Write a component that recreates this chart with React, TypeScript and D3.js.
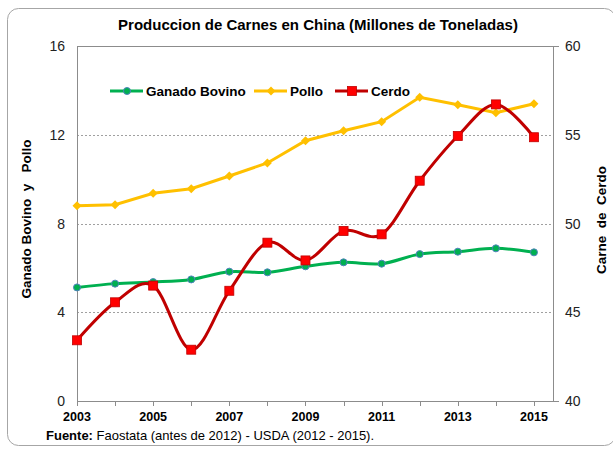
import React from "react";
import * as d3 from "d3";

const years = [2003, 2004, 2005, 2006, 2007, 2008, 2009, 2010, 2011, 2012, 2013, 2014, 2015];
const bovino = [5.12, 5.29, 5.36, 5.48, 5.83, 5.8, 6.07, 6.25, 6.19, 6.62, 6.73, 6.88, 6.7];
const pollo = [8.8, 8.85, 9.36, 9.57, 10.14, 10.73, 11.73, 12.18, 12.59, 13.69, 13.35, 12.99, 13.4];
const cerdo = [43.42, 45.56, 46.5, 42.89, 46.21, 48.92, 47.92, 49.58, 49.39, 52.41, 54.93, 56.71, 54.86];
const leftTicks = [0, 4, 8, 12, 16];
const rightTicks = [40, 45, 50, 55, 60];
const xLabels = [2003, 2005, 2007, 2009, 2011, 2013, 2015];
const title = "Produccion de Carnes en China (Millones de Toneladas)";
const leftTitle = "Ganado Bovino  y   Pollo";
const rightTitle = "Carne  de  Cerdo";

const W = 613, H = 449;
const L = 77, R = 553, T = 46, B = 401;
const FONT = "'Liberation Sans', Arial, sans-serif";

export default function App() {
  const x = d3.scaleLinear().domain([2003, 2015.5]).range([L, R]);
  const yL = d3.scaleLinear().domain([0, 16]).range([B, T]);
  const yR = d3.scaleLinear().domain([40, 60]).range([B, T]);

  const smooth = d3.curveCatmullRom.alpha(0);
  const lineBov = d3.line<number>().x((_, i) => x(years[i])).y((d) => yL(d)).curve(smooth);
  const linePol = d3.line<number>().x((_, i) => x(years[i])).y((d) => yL(d));
  const lineCer = d3.line<number>().x((_, i) => x(years[i])).y((d) => yR(d)).curve(smooth);

  const green = "#00B050", blue = "#4F81BD", yellow = "#FFC000", darkRed = "#C00000", red = "#FF0000";

  const diamond = (cx: number, cy: number, r: number) =>
    `M${cx},${cy - r}L${cx + r},${cy}L${cx},${cy + r}L${cx - r},${cy}Z`;

  const legendY = 91;
  const axisCol = "#8c8c8c";

  return (
    <svg width={W} height={H} style={{ position: "absolute", left: 0, top: 0, fontFamily: FONT }}>
      <rect x={0} y={0} width={W} height={H} fill="#fff" />
      <rect x={7.5} y={8.5} width={608} height={437} rx={11} fill="#fff" stroke="#a6a6a6" strokeWidth={1} />
      <text x={318} y={30} textAnchor="middle" fontSize={15} fontWeight="bold" fill="#000">{title}</text>

      {/* gridlines */}
      {leftTicks.filter((t) => t > 0 && t < 16).map((t) => (
        <line key={t} x1={L} x2={R} y1={Math.round(yL(t)) + 0.5} y2={Math.round(yL(t)) + 0.5} stroke="#a0a0a0" strokeWidth={1} strokeDasharray="2,2" />
      ))}
      {/* plot frame */}
      <line x1={L} x2={R + 6} y1={T + 0.5} y2={T + 0.5} stroke={axisCol} />
      <line x1={L + 0.5} x2={L + 0.5} y1={T} y2={B} stroke={axisCol} />
      <line x1={R + 0.5} x2={R + 0.5} y1={T} y2={B} stroke={axisCol} />
      <line x1={L} x2={R + 6} y1={B + 0.5} y2={B + 0.5} stroke={axisCol} />
      {/* x ticks */}
      {years.map((yr) => (
        <line key={yr} x1={Math.round(x(yr)) + 0.5} x2={Math.round(x(yr)) + 0.5} y1={B} y2={B + 5} stroke={axisCol} />
      ))}
      {/* left labels */}
      {leftTicks.map((t) => (
        <text key={t} x={65} y={yL(t) + 5} textAnchor="end" fontSize={14} fill="#222">{t}</text>
      ))}
      {rightTicks.map((t) => (
        <text key={t} x={565} y={yR(t) + 5} textAnchor="start" fontSize={14} fill="#222">{t}</text>
      ))}
      {xLabels.map((yr) => (
        <text key={yr} x={x(yr)} y={421} textAnchor="middle" fontSize={12.5} fontWeight="bold" fill="#000">{yr}</text>
      ))}

      <text transform={`translate(31,219) rotate(-90)`} textAnchor="middle" fontSize={13.5} fontWeight="bold" fill="#000" style={{ whiteSpace: "pre" }}>{leftTitle}</text>
      <text transform={`translate(606,220) rotate(-90)`} textAnchor="middle" fontSize={13.5} fontWeight="bold" fill="#000" style={{ whiteSpace: "pre" }}>{rightTitle}</text>

      {/* series */}
      <path d={linePol(pollo) || ""} fill="none" stroke={yellow} strokeWidth={3} />
      {pollo.map((v, i) => (
        <path key={i} d={diamond(x(years[i]), yL(v), 4.5)} fill={yellow} />
      ))}
      <path d={lineBov(bovino) || ""} fill="none" stroke={green} strokeWidth={3} />
      {bovino.map((v, i) => (
        <circle key={i} cx={x(years[i])} cy={yL(v)} r={3.5} fill={green} stroke={blue} strokeWidth={1} />
      ))}
      <path d={lineCer(cerdo) || ""} fill="none" stroke={darkRed} strokeWidth={3} />
      {cerdo.map((v, i) => (
        <rect key={i} x={x(years[i]) - 4.5} y={yR(v) - 4.5} width={9} height={9} fill={red} stroke={darkRed} strokeWidth={0.8} />
      ))}

      {/* legend */}
      <line x1={110} x2={143} y1={legendY} y2={legendY} stroke={green} strokeWidth={3} />
      <circle cx={127} cy={legendY} r={3.5} fill={green} stroke={blue} strokeWidth={1} />
      <text x={146} y={legendY + 5} fontSize={13.5} fontWeight="bold" fill="#000">Ganado Bovino</text>
      <line x1={254} x2={287} y1={legendY} y2={legendY} stroke={yellow} strokeWidth={3} />
      <path d={diamond(271, legendY, 4.5)} fill={yellow} />
      <text x={290} y={legendY + 5} fontSize={13.5} fontWeight="bold" fill="#000">Pollo</text>
      <line x1={335} x2={368} y1={legendY} y2={legendY} stroke={darkRed} strokeWidth={3} />
      <rect x={352 - 4.5} y={legendY - 4.5} width={9} height={9} fill={red} stroke={darkRed} strokeWidth={0.8} />
      <text x={371} y={legendY + 5} fontSize={13.5} fontWeight="bold" fill="#000">Cerdo</text>

      {/* footer */}
      <text x={46} y={440} fontSize={13} fill="#000">
        <tspan fontWeight="bold">Fuente:</tspan>
        <tspan> Faostata (antes de 2012) - USDA (2012 - 2015).</tspan>
      </text>
    </svg>
  );
}
